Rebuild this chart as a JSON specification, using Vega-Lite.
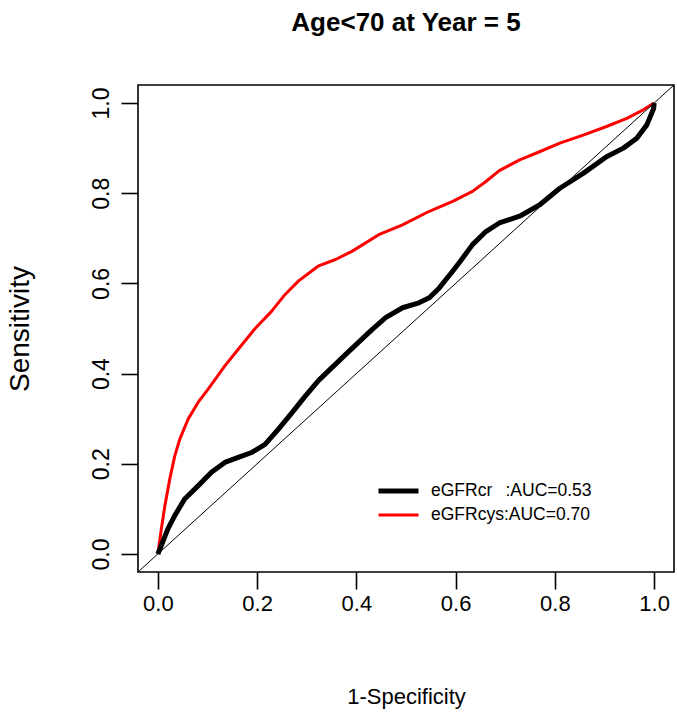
{
  "$schema": "https://vega.github.io/schema/vega-lite/v6.json",
  "autosize": "none",
  "width": 536,
  "height": 487,
  "padding": {"left": 138, "top": 85, "right": 3, "bottom": 149},
  "background": "white",
  "title": {
    "text": "Age<70 at Year = 5",
    "fontSize": 26,
    "fontWeight": "bold",
    "font": "Liberation Sans",
    "color": "black",
    "anchor": "middle",
    "baseline": "alphabetic",
    "offset": 28
  },
  "datasets": {
    "roc": [
      {"series": "eGFRcys", "fpr": 0, "tpr": 0},
      {"series": "eGFRcys", "fpr": 0.007, "tpr": 0.055},
      {"series": "eGFRcys", "fpr": 0.014, "tpr": 0.106},
      {"series": "eGFRcys", "fpr": 0.024, "tpr": 0.166},
      {"series": "eGFRcys", "fpr": 0.034, "tpr": 0.217},
      {"series": "eGFRcys", "fpr": 0.044, "tpr": 0.254},
      {"series": "eGFRcys", "fpr": 0.061, "tpr": 0.299},
      {"series": "eGFRcys", "fpr": 0.081, "tpr": 0.336},
      {"series": "eGFRcys", "fpr": 0.101, "tpr": 0.365},
      {"series": "eGFRcys", "fpr": 0.135, "tpr": 0.417},
      {"series": "eGFRcys", "fpr": 0.162, "tpr": 0.454},
      {"series": "eGFRcys", "fpr": 0.196, "tpr": 0.5},
      {"series": "eGFRcys", "fpr": 0.229, "tpr": 0.538},
      {"series": "eGFRcys", "fpr": 0.256, "tpr": 0.575},
      {"series": "eGFRcys", "fpr": 0.283, "tpr": 0.605},
      {"series": "eGFRcys", "fpr": 0.324, "tpr": 0.639},
      {"series": "eGFRcys", "fpr": 0.358, "tpr": 0.653},
      {"series": "eGFRcys", "fpr": 0.391, "tpr": 0.671},
      {"series": "eGFRcys", "fpr": 0.445, "tpr": 0.708},
      {"series": "eGFRcys", "fpr": 0.493, "tpr": 0.73},
      {"series": "eGFRcys", "fpr": 0.547, "tpr": 0.76},
      {"series": "eGFRcys", "fpr": 0.594, "tpr": 0.782},
      {"series": "eGFRcys", "fpr": 0.634, "tpr": 0.804},
      {"series": "eGFRcys", "fpr": 0.661, "tpr": 0.826},
      {"series": "eGFRcys", "fpr": 0.688, "tpr": 0.85},
      {"series": "eGFRcys", "fpr": 0.729, "tpr": 0.874},
      {"series": "eGFRcys", "fpr": 0.769, "tpr": 0.892},
      {"series": "eGFRcys", "fpr": 0.81, "tpr": 0.911},
      {"series": "eGFRcys", "fpr": 0.857, "tpr": 0.929},
      {"series": "eGFRcys", "fpr": 0.904, "tpr": 0.948},
      {"series": "eGFRcys", "fpr": 0.945, "tpr": 0.966},
      {"series": "eGFRcys", "fpr": 0.978, "tpr": 0.985},
      {"series": "eGFRcys", "fpr": 1, "tpr": 1},
      {"series": "eGFRcr", "fpr": 0, "tpr": 0},
      {"series": "eGFRcr", "fpr": 0.01, "tpr": 0.027},
      {"series": "eGFRcr", "fpr": 0.02, "tpr": 0.055},
      {"series": "eGFRcr", "fpr": 0.034, "tpr": 0.085},
      {"series": "eGFRcr", "fpr": 0.054, "tpr": 0.122},
      {"series": "eGFRcr", "fpr": 0.081, "tpr": 0.151},
      {"series": "eGFRcr", "fpr": 0.108, "tpr": 0.181},
      {"series": "eGFRcr", "fpr": 0.135, "tpr": 0.203},
      {"series": "eGFRcr", "fpr": 0.162, "tpr": 0.214},
      {"series": "eGFRcr", "fpr": 0.189, "tpr": 0.225},
      {"series": "eGFRcr", "fpr": 0.216, "tpr": 0.243},
      {"series": "eGFRcr", "fpr": 0.243, "tpr": 0.277},
      {"series": "eGFRcr", "fpr": 0.27, "tpr": 0.313},
      {"series": "eGFRcr", "fpr": 0.297, "tpr": 0.35},
      {"series": "eGFRcr", "fpr": 0.324, "tpr": 0.385},
      {"series": "eGFRcr", "fpr": 0.378, "tpr": 0.442},
      {"series": "eGFRcr", "fpr": 0.432, "tpr": 0.498},
      {"series": "eGFRcr", "fpr": 0.459, "tpr": 0.524},
      {"series": "eGFRcr", "fpr": 0.493, "tpr": 0.546},
      {"series": "eGFRcr", "fpr": 0.526, "tpr": 0.557},
      {"series": "eGFRcr", "fpr": 0.547, "tpr": 0.568},
      {"series": "eGFRcr", "fpr": 0.567, "tpr": 0.59},
      {"series": "eGFRcr", "fpr": 0.594, "tpr": 0.627},
      {"series": "eGFRcr", "fpr": 0.614, "tpr": 0.656},
      {"series": "eGFRcr", "fpr": 0.634, "tpr": 0.686},
      {"series": "eGFRcr", "fpr": 0.661, "tpr": 0.715},
      {"series": "eGFRcr", "fpr": 0.688, "tpr": 0.734},
      {"series": "eGFRcr", "fpr": 0.729, "tpr": 0.749},
      {"series": "eGFRcr", "fpr": 0.769, "tpr": 0.774},
      {"series": "eGFRcr", "fpr": 0.81, "tpr": 0.811},
      {"series": "eGFRcr", "fpr": 0.857, "tpr": 0.844},
      {"series": "eGFRcr", "fpr": 0.904, "tpr": 0.881},
      {"series": "eGFRcr", "fpr": 0.938, "tpr": 0.9},
      {"series": "eGFRcr", "fpr": 0.965, "tpr": 0.922},
      {"series": "eGFRcr", "fpr": 0.985, "tpr": 0.951},
      {"series": "eGFRcr", "fpr": 0.999, "tpr": 0.988},
      {"series": "eGFRcr", "fpr": 1, "tpr": 1}
    ],
    "diag": [
      {"fpr": -0.04, "tpr": -0.04},
      {"fpr": 1.04, "tpr": 1.04}
    ]
  },
  "layer": [
    {
      "data": {"name": "roc"},
      "mark": {"type": "line", "clip": true, "strokeJoin": "round", "strokeCap": "butt"},
      "encoding": {
        "x": {
          "field": "fpr", "type": "quantitative",
          "scale": {"domain": [-0.04, 1.04], "nice": false, "zero": false},
          "axis": {"title": "1-Specificity", "values": [0, 0.2, 0.4, 0.6, 0.8, 1], "format": ".1f", "labelFontSize": 22, "titleFontSize": 22, "titlePadding": 72}
        },
        "y": {
          "field": "tpr", "type": "quantitative",
          "scale": {"domain": [-0.04, 1.04], "nice": false, "zero": false},
          "axis": {"title": "Sensitivity", "values": [0, 0.2, 0.4, 0.6, 0.8, 1], "format": ".1f", "labelAngle": -90, "labelAlign": "center", "labelBaseline": "bottom", "labelPadding": 8, "labelFontSize": 23, "titleFontSize": 28, "titlePadding": 56}
        },
        "color": {
          "field": "series", "type": "nominal",
          "scale": {"domain": ["eGFRcr", "eGFRcys"], "range": ["#000000", "#ff0000"]},
          "legend": {
            "title": null,
            "orient": "none",
            "legendX": 238,
            "legendY": 396,
            "padding": 0,
            "symbolType": "stroke",
            "symbolSize": 1600,
            "symbolStrokeWidth": 4,
            "clipHeight": 20,
            "rowPadding": 4,
            "labelOffset": 10,
            "labelFontSize": 17.5,
            "labelLimit": 400,
            "labelFont": "Liberation Sans",
            "labelColor": "black",
            "labelExpr": "datum.label == 'eGFRcr' ? 'eGFRcr\u00a0\u00a0\u2009:AUC=0.53' : 'eGFRcys:AUC=0.70'"
          }
        },
        "strokeWidth": {
          "field": "series", "type": "nominal",
          "scale": {"domain": ["eGFRcr", "eGFRcys"], "range": [5, 3]},
          "legend": null
        }
      }
    },
    {
      "data": {"name": "diag"},
      "mark": {"type": "line", "clip": true, "color": "black", "strokeWidth": 1},
      "encoding": {
        "x": {"field": "fpr", "type": "quantitative"},
        "y": {"field": "tpr", "type": "quantitative"}
      }
    }
  ],
  "config": {
    "font": "Liberation Sans",
    "view": {"stroke": "black", "strokeWidth": 1.6},
    "axis": {
      "domain": false,
      "grid": false,
      "ticks": true,
      "tickSize": 17,
      "tickWidth": 1.6,
      "tickColor": "black",
      "labelColor": "black",
      "labelFont": "Liberation Sans",
      "labelPadding": 4,
      "titleFontWeight": "normal",
      "titleColor": "black",
      "titleFont": "Liberation Sans"
    }
  }
}
